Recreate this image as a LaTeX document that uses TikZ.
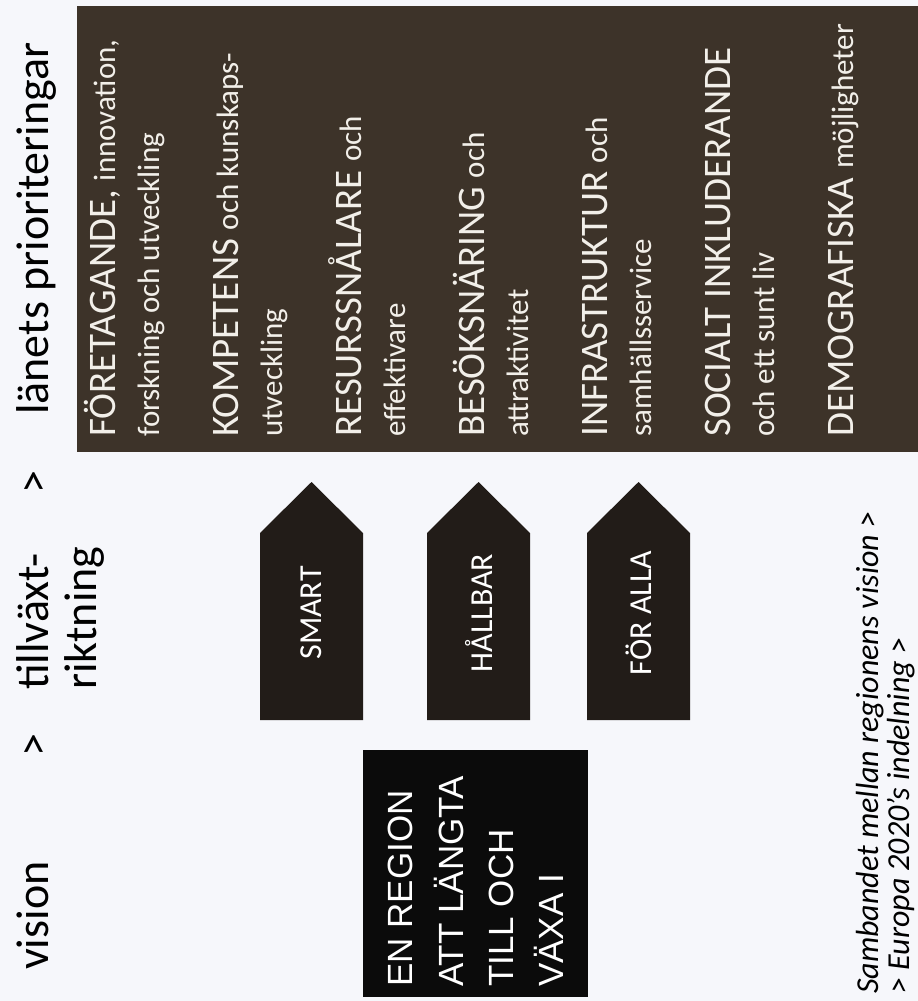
\documentclass[tikz,border=0pt]{standalone}
\usepackage{fontspec}
\setmainfont{Carlito}
\newfontfamily\visionfont{Liberation Sans}
\usepackage{tikz}

\definecolor{paper}{HTML}{F6F7FB}
\definecolor{prioback}{HTML}{3D3329}
\definecolor{pilfill}{HTML}{221C18}
\definecolor{visionback}{HTML}{0B0B0B}
\definecolor{ljus}{HTML}{F2EFE9}

\newcommand{\rubriksize}{\fontsize{46}{52}\selectfont}
\newcommand{\capsize}{\fontsize{39}{46}\selectfont}
\newcommand{\lowsize}{\fontsize{31}{37}\selectfont}
\newcommand{\pilsize}{\fontsize{32}{38}\selectfont}
\newcommand{\visionsize}{\visionfont\fontsize{35}{42}\selectfont}
\newcommand{\captionsize}{\itshape\fontsize{32}{38}\selectfont}

\begin{document}
\begin{tikzpicture}[
    x=1pt, y=-1pt,
    heading/.style={rotate=90, anchor=base west, inner sep=0pt, font=\rubriksize},
    prio/.style={rotate=90, anchor=base west, inner sep=0pt, text=ljus},
    pil/.style={fill=pilfill},
    piltext/.style={rotate=90, inner sep=0pt, text=white, font=\pilsize},
    visiontext/.style={rotate=90, anchor=base west, inner sep=0pt, text=white, font=\visionsize},
    caption/.style={rotate=90, anchor=base west, inner sep=0pt, font=\captionsize}
]
\useasboundingbox (0,0) rectangle (918,1001);
\fill[paper] (0,0) rectangle (918,1001);

% Headings
\node[heading] (vision) at (48,970) {vision};
\node[heading] (gt1) at (48,757) {>};
\node[heading] (tillvaxt) at (48,690) {tillväxt-};
\node[heading] (riktning) at (96,690) {riktning};
\node[heading] (gt2) at (48,494) {>};
\node[heading] (lanets) at (48,415) {länets prioriteringar};

% Priorities
\fill[prioback] (77,6) rectangle (918,452);
\foreach \b/\caps/\low/\second [count=\i] in {115/{FÖRETAGANDE,}/{innovation,}/{forskning och utveckling},
    238/KOMPETENS/{och kunskaps-}/utveckling, 361/RESURSSNÅLARE/och/effektivare,
    484/BESÖKSNÄRING/och/attraktivitet, 607/INFRASTRUKTUR/och/samhällsservice,
    730/{SOCIALT INKLUDERANDE}/{}/{och ett sunt liv}, 853/DEMOGRAFISKA/möjligheter/{}}
{
  \node[prio] (prio\i) at (\b,437) {{\capsize \caps\ }{\lowsize\low}};
  \node[prio, font=\lowsize] (prio\i b) at (\b+44,437) {\second};
}

% Arrows
\foreach \x/\lbl/\navn in {260/SMART/smart, 427/HÅLLBAR/hallbar, 587/FÖR ALLA/foralla}
{
  \fill[pil] (\x,720) -- (\x,533) -- (\x+51.5,482) -- (\x+103,533) -- (\x+103,720) -- cycle;
  \node[piltext] (\navn) at (\x+51.5,613) {\lbl};
}

% Vision
\fill[visionback] (363,750) rectangle (588,997);
\foreach \b/\rad [count=\i] in {412/EN REGION, 463/ATT LÄNGTA, 513/TILL OCH, 563/VÄXA I}
  \node[visiontext] (visionrad\i) at (\b,987) {\rad};

% Caption
\node[caption] (samband) at (878,994) {Sambandet mellan regionens vision >};
\node[caption] (europa) at (909,994) {> Europa 2020’s indelning >};

\end{tikzpicture}
\end{document}
